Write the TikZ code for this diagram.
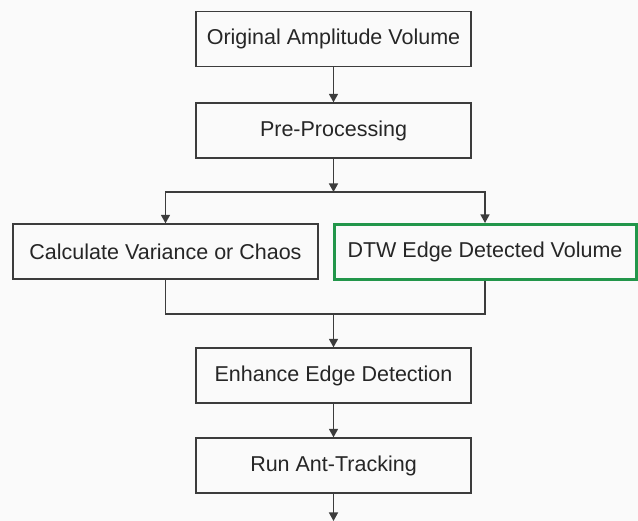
\documentclass[tikz,border=0pt]{standalone}
\usepackage{fontspec}
\setmainfont{Liberation Sans}
\usepackage{tikz}
\usetikzlibrary{arrows.meta}
\usepackage{xcolor}
\definecolor{linegray}{RGB}{60,60,60}
\definecolor{boxgreen}{RGB}{34,150,74}

\begin{document}
\begin{tikzpicture}[x=1pt,y=-1pt,>={Triangle[length=8.5pt,width=9pt]},
    box/.style={draw=linegray,line width=1.3pt,minimum height=55pt,inner sep=0pt,
      text=black!85,font=\fontsize{21.5}{25}\selectfont},
    conn/.style={draw=linegray,line width=1.3pt}]
  \fill[white!98!black] (0,0) rectangle (638,521);
  \useasboundingbox (0,0) rectangle (638,521);

  \node[box,minimum width=275pt] (orig) at (333.5,39) {Original Amplitude Volume};
  \node[box,minimum width=275pt] (pre) at (333.5,130.5) {Pre-Processing};
  \node[box,minimum width=305pt] (calc) at (165.5,251.5) {Calculate Variance or Chaos};
  \node[box,minimum width=302pt,draw=boxgreen,line width=3pt] (dtw) at (485,252) {DTW Edge Detected Volume};
  \node[box,minimum width=275pt] (enh) at (333.5,375.5) {Enhance Edge Detection};
  \node[box,minimum width=275pt] (ant) at (333.5,465.5) {Run Ant-Tracking};

  \coordinate (split) at (333.5,192);
  \coordinate (merge) at (333.5,314);
  \coordinate (out) at (333.5,521);

  \draw[conn,->] (orig) -- (pre);
  \draw[conn,->] (pre) -- (split);
  \draw[conn,->] (split) -| (calc);
  \draw[conn,->] (split) -| (dtw.north);
  \draw[conn] (calc) |- (merge) -| (dtw.south);
  \draw[conn,->] (merge) -- (enh);
  \draw[conn,->] (enh) -- (ant);
  \draw[conn,->] (ant) -- (out);
\end{tikzpicture}
\end{document}
